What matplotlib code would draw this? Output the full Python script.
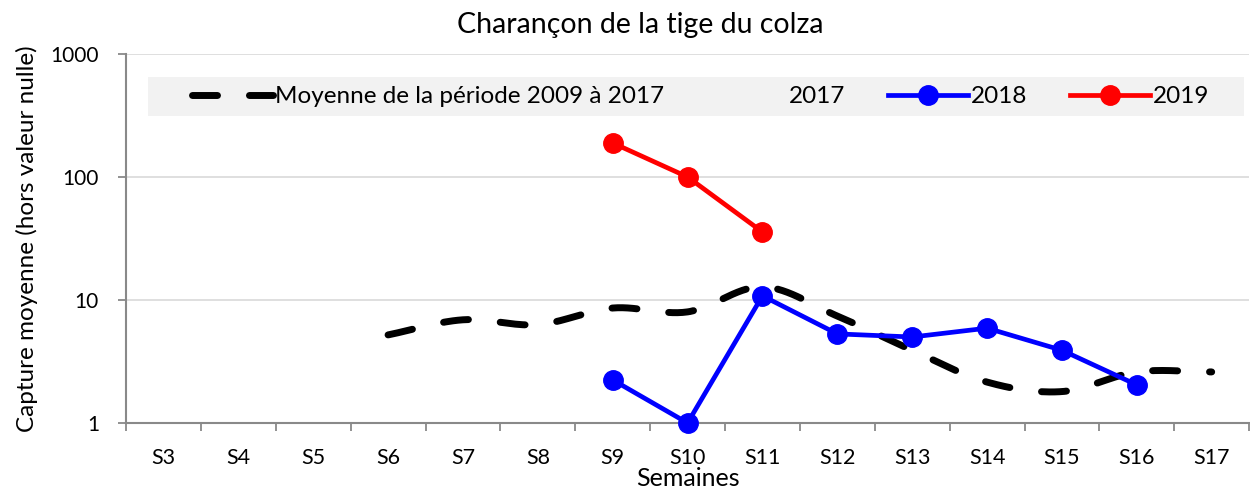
import numpy as np
import matplotlib
matplotlib.use("Agg")
import matplotlib.pyplot as plt
from matplotlib.lines import Line2D
from matplotlib.patches import Rectangle

plt.rcParams['font.family'] = ['Lato', 'DejaVu Sans']

weeks = ["S3", "S4", "S5", "S6", "S7", "S8", "S9", "S10", "S11", "S12", "S13", "S14", "S15", "S16", "S17"]
mean_weeks = ["S6", "S7", "S8", "S9", "S10", "S11", "S12", "S13", "S14", "S15", "S16", "S17"]
mean_vals = [5.2, 6.9, 6.3, 8.6, 8.0, 12.8, 7.4, 3.9, 2.15, 1.8, 2.6, 2.6]
w2018 = ["S9", "S10", "S11", "S12", "S13", "S14", "S15", "S16"]
v2018 = [2.24, 1.0, 10.8, 5.3, 5.0, 5.9, 3.9, 2.04]
w2019 = ["S9", "S10", "S11"]
v2019 = [189, 100, 35.7]

title = "Charançon de la tige du colza"
ylabel = "Capture moyenne (hors valeur nulle)"
xlabel = "Semaines"
labels = ["Moyenne de la période 2009 à 2017", "2017", "2018", "2019"]

pos = {w: i for i, w in enumerate(weeks)}


def catmull_rom(xs, ys, n=30):
    xs = np.asarray(xs, float)
    ys = np.asarray(ys, float)
    P = np.column_stack([xs, ys])
    P = np.vstack([P[0] - (P[1] - P[0]), P, P[-1] + (P[-1] - P[-2])])
    out = []
    for i in range(1, len(P) - 2):
        p0, p1, p2, p3 = P[i - 1], P[i], P[i + 1], P[i + 2]
        t = np.linspace(0, 1, n, endpoint=(i == len(P) - 3))[:, None]
        c1 = p1 + (p2 - p0) / 6.0
        c2 = p2 - (p3 - p1) / 6.0
        b = ((1 - t) ** 3) * p1 + 3 * ((1 - t) ** 2) * t * c1 + 3 * (1 - t) * t ** 2 * c2 + t ** 3 * p2
        out.append(b)
    out = np.vstack(out)
    return out[:, 0], out[:, 1]


fig = plt.figure(figsize=(12.5, 4.95), dpi=100)
ax = fig.add_axes([0.1008, 0.1455, 0.8985, 0.7455])

ax.set_yscale('log')
ax.set_ylim(1, 1000)
ax.set_xlim(-0.5, len(weeks) - 0.5)

# smoothed mean line (smoothing in log space as on a log axis)
mx = [pos[w] for w in mean_weeks]
sx, sy = catmull_rom(mx, np.log10(mean_vals))
ax.plot(sx, 10 ** sy, color='black', lw=5, dashes=(3.6, 4.6), solid_capstyle='round',
        dash_capstyle='round', zorder=3)

ax.plot([pos[w] for w in w2018], v2018, color='#0000ff', lw=3.4, marker='o', ms=14,
        zorder=5, solid_capstyle='round', clip_on=False)
ax.plot([pos[w] for w in w2019], v2019, color='#ff0000', lw=3.4, marker='o', ms=14,
        zorder=5, solid_capstyle='round', clip_on=False)

# grid
for v in [10, 100, 1000]:
    ax.axhline(v, color='#d9d9d9', lw=1.2, zorder=0)

for s in ['top', 'right']:
    ax.spines[s].set_visible(False)
for s in ['left', 'bottom']:
    ax.spines[s].set_color('#898989')
    ax.spines[s].set_linewidth(1.5)

ax.set_yticks([1, 10, 100, 1000])
ax.set_yticklabels(["1", "10", "100", "1000"])
ax.yaxis.set_minor_locator(matplotlib.ticker.NullLocator())
ax.tick_params(axis='y', which='major', length=5.5, width=1.3, color='#898989',
               pad=14, labelsize=15, labelcolor='black')

ax.set_xticks(range(len(weeks)))
ax.set_xticklabels(weeks)
ax.set_xticks(np.arange(-0.5, len(weeks)), minor=True)
ax.tick_params(axis='x', which='major', length=0, pad=18, labelsize=15.5)
ax.tick_params(axis='x', which='minor', length=5.5, width=1.3, color='#898989')

fig.text(640 / 1250, 1 - 25 / 495, title, fontsize=20.5, ha='center', va='center')
ax.set_ylabel(ylabel, fontsize=17.5, labelpad=9)
ax.set_xlabel(xlabel, fontsize=18, labelpad=-1)

# legend background band
ax.add_patch(Rectangle((0.0196, 0.832), 0.976, 0.106, transform=ax.transAxes,
                       facecolor='#f2f2f2', edgecolor='none', zorder=1))

handles = [
    Line2D([], [], color='black', lw=5, dashes=(3.6, 4.6), dash_capstyle='round'),
    Line2D([], [], color='none'),
    Line2D([], [], color='#0000ff', lw=3.4, marker='o', ms=14),
    Line2D([], [], color='#ff0000', lw=3.4, marker='o', ms=14),
]
leg = ax.legend(handles, labels, ncol=4, loc='center',
                bbox_to_anchor=(0.5116, 0.8835), frameon=False,
                fontsize=17.5, handlelength=3.3, handletextpad=0.1,
                columnspacing=1.75, borderpad=0, borderaxespad=0)
leg.set_zorder(6)

fig.savefig("out.png", dpi=100)
